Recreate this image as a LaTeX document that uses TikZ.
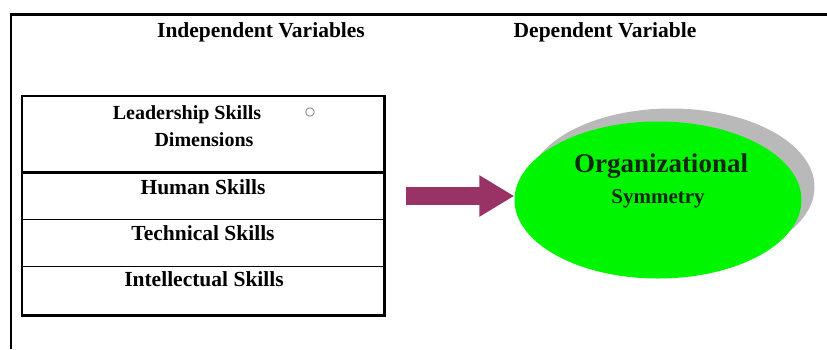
\documentclass[tikz,border=0pt]{standalone}
\usepackage{fontspec}
\setmainfont{Liberation Serif}
\usetikzlibrary{shapes.geometric,shadows,arrows.meta}

\definecolor{arrowplum}{RGB}{153,51,102}
\definecolor{ovalgreen}{RGB}{0,245,0}
\definecolor{ovaltext}{RGB}{15,40,15}

\tikzset{
  hdr/.style={font=\bfseries\fontsize{21.5}{24}\selectfont, anchor=base},
  cell/.style={draw, line width=1.2pt, minimum width=361pt, inner sep=0pt, anchor=north west},
  celltext/.style={font=\bfseries\fontsize{21.5}{24}\selectfont, anchor=base},
}

\begin{document}
\begin{tikzpicture}[x=1pt,y=-1pt]
    \useasboundingbox (0,0) rectangle (827,349);
    % page frame, open at the right and bottom
    \draw[line width=3pt] (10,14.5) -- (827,14.5);
    \draw[line width=2pt] (11,14.5) -- (11,349);
    \node[hdr] (indep) at (261,37) {Independent Variables};
    \node[hdr] (dep) at (605,37) {Dependent Variable};

    % the four rows of the skills table
    \node[cell, minimum height=75pt] (lead) at (22,96) {};
    \node[cell, minimum height=48pt] (human) at (22,171) {};
    \node[cell, minimum height=47pt] (tech) at (22,219) {};
    \node[cell, minimum height=48pt] (intel) at (22,266) {};
    \draw[line width=2.6pt] (lead.north west) rectangle (intel.south east);
    \draw[line width=2.6pt] (lead.south west) -- (lead.south east);
    \node[celltext, font=\bfseries\fontsize{20}{22}\selectfont] (leadA) at (187,119) {Leadership Skills};
    \node[celltext, font=\bfseries\fontsize{20}{22}\selectfont] (leadB) at (204,146) {Dimensions};
    \node[circle, draw=gray!80, line width=1pt, minimum size=8.5pt, inner sep=0pt] (mark) at (310,112) {};
    \node[celltext] (humanT) at (203,194) {Human Skills};
    \node[celltext] (techT) at (203,240) {Technical Skills};
    \node[celltext] (intelT) at (204,286) {Intellectual Skills};

    % the outcome oval
    \node[ellipse, fill=ovalgreen, minimum width=287pt, minimum height=157pt, inner sep=0pt,
          drop shadow={shadow xshift=13pt, shadow yshift=13pt, fill=gray!55, opacity=1}] (oval) at (658,200) {};
    \node[font=\bfseries\fontsize{27}{30}\selectfont, text=ovaltext, anchor=base] (org) at (661,172) {Organizational};
    \node[font=\bfseries\fontsize{21}{24}\selectfont, text=ovaltext, anchor=base] (sym) at (658,203) {Symmetry};

    \coordinate (tail) at (406,196);
    \draw[arrowplum, line width=18pt, -{Triangle[length=35pt, width=39pt]}] (tail) -- (tail -| oval.west);
\end{tikzpicture}
\end{document}
